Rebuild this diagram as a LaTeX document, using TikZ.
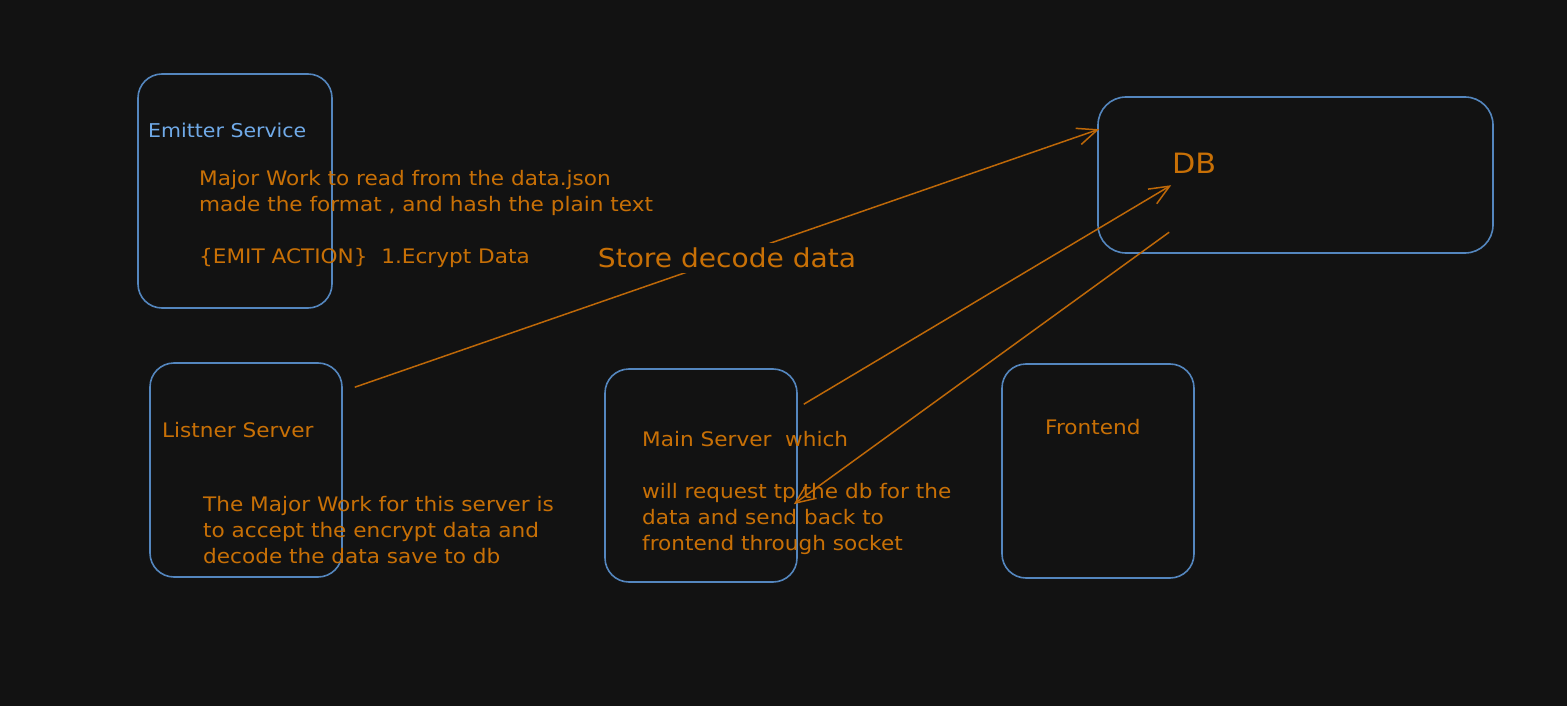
\documentclass[tikz,border=0pt]{standalone}
\usepackage{fontspec}
\setmainfont{DejaVu Sans}
\newfontfamily\handfont[FakeStretch=1.08]{DejaVu Sans}
\usetikzlibrary{arrows.meta,calc}
\definecolor{bg}{RGB}{18,18,18}
\definecolor{boxc}{RGB}{84,134,190}
\definecolor{txt}{RGB}{200,112,6}
\definecolor{ltblue}{RGB}{112,170,232}
\definecolor{arrc}{RGB}{190,104,8}
\begin{document}
\begin{tikzpicture}[x=1pt,y=-1pt,
  box/.style={draw=boxc,line width=1.6pt,rounded corners=24pt,inner sep=0pt},
  lbl/.style={text=txt,font=\handfont\fontsize{20}{26}\selectfont,inner sep=0pt,align=left,anchor=base west},
  conn/.style={draw=arrc,line width=1.5pt,-{Straight Barb[length=20pt,width=17pt]}}]
\fill[bg] (0,0) rectangle (1567,706);
\useasboundingbox (0,0) rectangle (1567,706);
% boxes
\node[box,minimum width=194pt,minimum height=234pt] (emitter) at (235,191) {};
\node[box,minimum width=395pt,minimum height=156pt,rounded corners=28pt] (db) at (1295.5,175) {};
\node[box,minimum width=192pt,minimum height=214pt] (listner) at (246,470) {};
\node[box,minimum width=192pt,minimum height=213pt] (main) at (701,475.5) {};
\node[box,minimum width=192pt,minimum height=214pt] (frontend) at (1098,471) {};
% texts (multi-line nodes are placed by the baseline of their last line)
\node[lbl,text=ltblue,font=\handfont\fontsize{19}{26}\selectfont] (emitterlbl) at (148,138) {Emitter Service};
\node[lbl] (emitterdesc) at (199,263) {Major Work to read from the data.json\\made the format , and hash the plain text\\\\\{EMIT ACTION\}\ \ 1.Ecrypt Data};
\node[lbl,font=\handfont\fontsize{28}{34}\selectfont] (dblbl) at (1172,174) {DB};
\node[lbl] (listnerlbl) at (162,437) {Listner Server};
\node[lbl] (listnerdesc) at (203,563) {The Major Work for this server is\\to accept the encrypt data and\\decode the data save to db};
\node[lbl] (mainlbl) at (642,550) {Main Server\ \ which\\\\will request tp the db for the\\data and send back to\\frontend through socket};
\node[lbl] (frontendlbl) at (1045,434) {Frontend};
% connector anchor points
\coordinate (s1) at ($(listner.north east)+(12,25)$);
\coordinate (e1) at ($(db.north west)+(2,33)$);
\coordinate (s2) at ($(main.north east)+(6,36)$);
\coordinate (e2) at ($(db.north west)+(74,89)$);
\coordinate (s3) at ($(db.north west)+(72,136)$);
\coordinate (e3) at ($(main.north east)+(-4,136)$);
% connectors
\draw[conn] (s1) -- node[lbl,anchor=center,fill=bg,inner sep=5pt,font=\handfont\fontsize{26}{30}\selectfont] (storelbl) {Store decode data} (e1);
\draw[conn] (s2) -- (e2);
\draw[conn] (s3) -- (e3);
\end{tikzpicture}
\end{document}
